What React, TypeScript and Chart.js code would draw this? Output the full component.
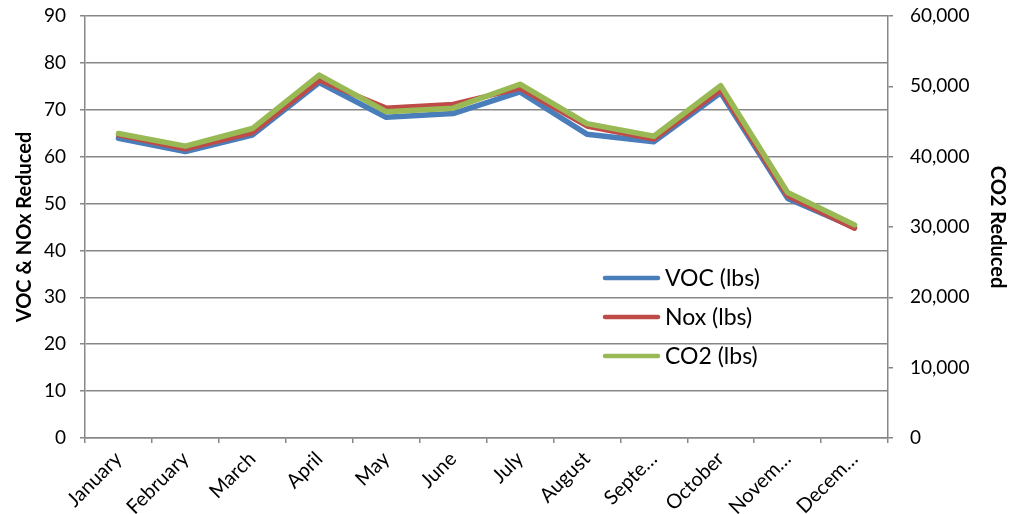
import React, { useEffect, useRef } from "react";
import { Chart, registerables } from "chart.js";

Chart.register(...registerables);

const months = ["January", "February", "March", "April", "May", "June", "July", "August", "September", "October", "November", "December"];
const tickLabels = ["January", "February", "March", "April", "May", "June", "July", "August", "Septe…", "October", "Novem…", "Decem…"];
const vocValues = [63.9, 61.1, 64.6, 75.8, 68.4, 69.2, 73.8, 64.8, 63.2, 73.6, 51.1, 44.9];
const noxValues = [64.6, 61.6, 65.1, 76.3, 70.4, 71.2, 74.6, 66.5, 63.7, 74.2, 51.6, 44.7];
const co2Values = [43300, 41500, 44000, 51600, 46400, 46900, 50300, 44700, 42900, 50100, 34900, 30300];
const leftTicks = [0, 10, 20, 30, 40, 50, 60, 70, 80, 90];
const rightTicks = [0, 10000, 20000, 30000, 40000, 50000, 60000];

const FONT = "Lato, 'Noto Sans', sans-serif";
const GRID = "#878787";

const legendPlugin = {
  id: "insideLegend",
  afterDraw(chart: any) {
    const ctx = chart.ctx;
    const items = chart.data.datasets;
    const x0 = 605;
    const x1 = 658;
    const ys = [278, 317, 356];
    ctx.save();
    ctx.font = `23px ${FONT}`;
    ctx.textBaseline = "middle";
    ctx.textAlign = "left";
    items.forEach((ds: any, i: number) => {
      ctx.strokeStyle = ds.borderColor;
      ctx.lineWidth = 4.5;
      ctx.lineCap = "round";
      ctx.beginPath();
      ctx.moveTo(x0, ys[i]);
      ctx.lineTo(x1, ys[i]);
      ctx.stroke();
      ctx.fillStyle = "#000";
      ctx.fillText(ds.label, 665, ys[i] + 1);
    });
    ctx.restore();
  },
};

const zeroPad = (s: any) => {
  s.paddingTop = 0;
  s.paddingBottom = 0;
  s.paddingLeft = 0;
  s.paddingRight = 0;
};

export default function App() {
  const ref = useRef<HTMLCanvasElement | null>(null);
  useEffect(() => {
    document.body.style.margin = "0";
    const canvas = ref.current!;
    const chart = new Chart(canvas, {
      type: "line",
      data: {
        labels: months,
        datasets: [
          { label: "VOC (lbs)", data: vocValues, borderColor: "#4A7EBB", backgroundColor: "#4A7EBB", borderWidth: 5.5, pointRadius: 0, yAxisID: "y", order: 3 },
          { label: "Nox (lbs)", data: noxValues, borderColor: "#BE4B48", backgroundColor: "#BE4B48", borderWidth: 5, pointRadius: 0, yAxisID: "y", order: 2 },
          { label: "CO2 (lbs)", data: co2Values, borderColor: "#98B954", backgroundColor: "#98B954", borderWidth: 5.5, pointRadius: 0, yAxisID: "y1", order: 1 },
        ],
      },
      options: {
        animation: false,
        responsive: true,
        maintainAspectRatio: false,
        layout: { padding: { top: 16, left: 0, right: 0, bottom: 0 } },
        elements: { line: { tension: 0, borderJoinStyle: "round", borderCapStyle: "round" } },
        plugins: { legend: { display: false }, tooltip: { enabled: false } },
        scales: {
          x: {
            type: "category",
            offset: true,
            grid: { offset: true, drawOnChartArea: false, tickLength: 5, color: GRID, lineWidth: 1.5 },
            border: { color: GRID, width: 1.5 },
            ticks: {
              minRotation: 45,
              maxRotation: 45,
              autoSkip: false,
              padding: 4,
              color: "#000",
              font: { family: FONT, size: 20 },
              callback: (_v: any, i: number) => tickLabels[i],
            },
            afterFit: (s: any) => { zeroPad(s); s.height = 76; },
          },
          y: {
            position: "left",
            min: 0,
            max: 90,
            afterBuildTicks: (s: any) => { s.ticks = leftTicks.map((v) => ({ value: v })); },
            grid: { color: GRID, lineWidth: 1.5, tickLength: 5 },
            border: { color: GRID, width: 1.5 },
            ticks: { color: "#000", padding: 14, font: { family: FONT, size: 19 } },
            title: { display: true, text: "VOC & NOx Reduced", color: "#000", font: { family: FONT, size: 20, weight: "bold" }, padding: { top: 13, bottom: 0 } },
            afterFit: (s: any) => { zeroPad(s); s.width = 85; },
          },
          y1: {
            position: "right",
            min: 0,
            max: 60000,
            afterBuildTicks: (s: any) => { s.ticks = rightTicks.map((v) => ({ value: v })); },
            grid: { drawOnChartArea: false, color: GRID, lineWidth: 1.5, tickLength: 5 },
            border: { color: GRID, width: 1.5 },
            ticks: {
              color: "#000",
              padding: 17,
              font: { family: FONT, size: 19 },
              callback: (v: any) => Number(v).toLocaleString("en-US"),
            },
            title: { display: true, text: "CO2 Reduced", color: "#000", font: { family: FONT, size: 20, weight: "bold" }, padding: { top: 11, bottom: 0 } },
            afterFit: (s: any) => { zeroPad(s); s.width = 132; },
          },
        },
      },
      plugins: [legendPlugin],
    } as any);
    return () => chart.destroy();
  }, []);
  return (
    <div style={{ position: "relative", width: 1020, height: 514 }}>
      <canvas ref={ref} />
    </div>
  );
}
